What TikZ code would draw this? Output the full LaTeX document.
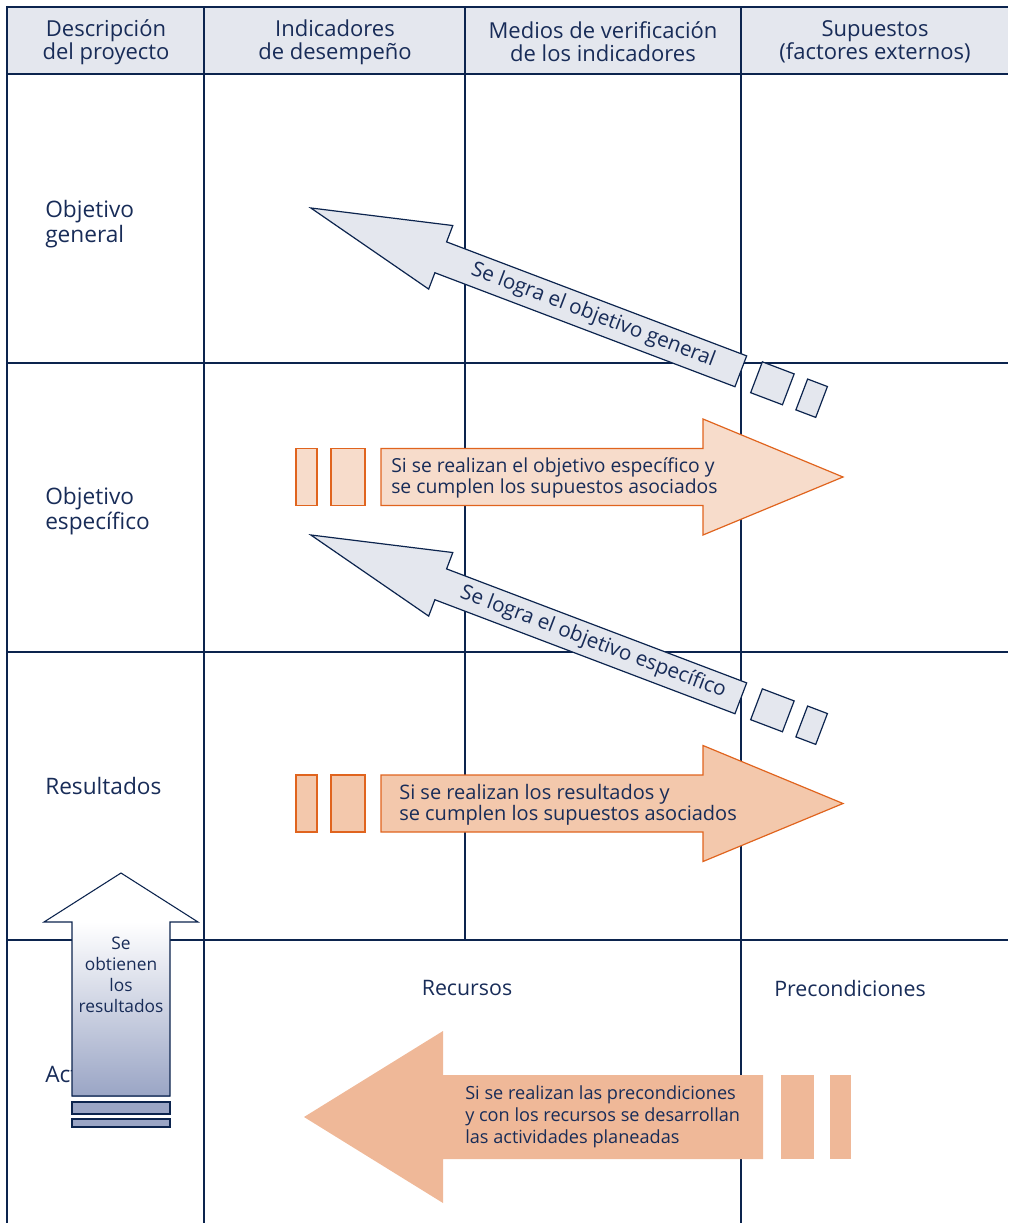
\documentclass[tikz,border=0pt]{standalone}
\usepackage{fontspec}
\setmainfont{Open Sans}
\usepackage{tikz}

\definecolor{navy}{RGB}{12,36,78}
\definecolor{inkblue}{RGB}{24,44,88}
\definecolor{headgray}{RGB}{228,231,238}
\definecolor{peachA}{RGB}{247,220,203}
\definecolor{peachB}{RGB}{243,200,172}
\definecolor{peachC}{RGB}{239,184,152}
\definecolor{orangeline}{RGB}{224,100,30}
\definecolor{upblue}{RGB}{154,165,197}

\tikzset{
  gridline/.style={color=navy, line width=1.9pt},
  rowline/.style={color=navy, line width=1pt},
  grayarrow/.style={draw=navy, fill=headgray, line width=0.9pt},
  peacharrow/.style={draw=orangeline, line width=0.9pt},
  hdtxt/.style={inner sep=0.75pt, text=inkblue, align=center, font=\fontsize{16.5}{17.25}\selectfont},
  rowtxt/.style={inner sep=0.75pt, text=inkblue, align=left, anchor=west, font=\fontsize{17}{18.75}\selectfont},
  celltxt/.style={inner sep=0.75pt, text=inkblue, font=\fontsize{16}{18}\selectfont},
  slanttxt/.style={inner sep=0.75pt, text=inkblue, rotate=-20.8, font=\fontsize{15.5}{18}\selectfont},
  peachtxt/.style={inner sep=0.75pt, text=inkblue, align=left, anchor=west, font=\fontsize{15}{15.75}\selectfont},
  uptxt/.style={inner sep=0.75pt, text=inkblue, align=center, font=\fontsize{13}{15.75}\selectfont}
}

\begin{document}
\begin{tikzpicture}[x=0.75pt,y=0.75pt,yscale=-1,xscale=1]
\useasboundingbox (0,0) rectangle (1008,1223);

%Shape: Header band
\fill [headgray] (7,7) rectangle (1008,74);
%Straight Lines
\draw [gridline] (7,7) -- (1008,7);
\draw [gridline] (7,74) -- (1008,74);
\draw [gridline] (7,6) -- (7,1223);
\draw [gridline] (204,7) -- (204,1223);
\draw [gridline] (465,7) -- (465,940);
\draw [gridline] (741,7) -- (741,1223);
\draw [rowline] (7,363) -- (1008,363);
\draw [rowline] (7,652) -- (1008,652);
\draw [rowline] (7,940) -- (1008,940);

% Text Node
\draw (106,42) node [hdtxt] (hdDesc) {Descripción\\del proyecto};
% Text Node
\draw (335,42) node [hdtxt] (hdInd) {Indicadores\\de desempeño};
% Text Node
\draw (603,42) node [hdtxt] (hdMed) {Medios de verificación\\de los indicadores};
% Text Node
\draw (875,42) node [hdtxt] (hdSup) {Supuestos\\(factores externos)};

% Text Node
\draw (44,224) node [rowtxt] (lblGeneral) {Objetivo\\general};
% Text Node
\draw (44,511) node [rowtxt] (lblEspec) {Objetivo\\específico};
% Text Node
\draw (44,786) node [rowtxt] (lblRes) {Resultados};
% Text Node
\draw (44,1074) node [rowtxt] (lblAct) {Actividades};
% Text Node
\draw (467,988) node [celltxt] (recursos) {Recursos};
% Text Node
\draw (850,988) node [celltxt] (precond) {Precondiciones};

%Shape: Arrow up-left (objetivo general)
\begin{scope}[shift={(740.8,371.3)}, rotate=20.8]
\draw [grayarrow] (0,-16.5) -- (-321,-16.5) -- (-321,-34) -- (-460,0) -- (-321,34) -- (-321,16.5) -- (0,16.5) -- cycle;
\draw [grayarrow] (16.8,-16.5) rectangle (50.8,16.5);
\draw [grayarrow] (65.2,-16.5) rectangle (86.4,16.5);
\draw (-158,0) node [slanttxt] (logGeneral) {Se logra el objetivo general};
\end{scope}

%Shape: Arrow up-left (objetivo especifico)
\begin{scope}[shift={(740.8,698.3)}, rotate=20.8]
\draw [grayarrow] (0,-16.5) -- (-321,-16.5) -- (-321,-34) -- (-460,0) -- (-321,34) -- (-321,16.5) -- (0,16.5) -- cycle;
\draw [grayarrow] (16.8,-16.5) rectangle (50.8,16.5);
\draw [grayarrow] (65.2,-16.5) rectangle (86.4,16.5);
\draw (-158,0) node [slanttxt] (logEspec) {Se logra el objetivo específico};
\end{scope}

%Shape: Right Arrow
\draw [peacharrow, fill=peachA] (381,448.5) -- (703,448.5) -- (703,419) -- (843,477) -- (703,535) -- (703,505.5) -- (381,505.5) -- cycle;
\draw [peacharrow, fill=peachA] (296,448.5) rectangle (317,505.5);
\draw [peacharrow, fill=peachA] (331,448.5) rectangle (365,505.5);
% Text Node
\draw (390,478) node [peachtxt, font=\fontsize{14.5}{15.75}\selectfont] (condEspec) {Si se realizan el objetivo específico y\\se cumplen los supuestos asociados};

%Shape: Right Arrow
\draw [peacharrow, fill=peachB] (381,775) -- (703,775) -- (703,745.5) -- (843,803.5) -- (703,861.5) -- (703,832) -- (381,832) -- cycle;
\draw [peacharrow, fill=peachB] (296,775) rectangle (317,832);
\draw [peacharrow, fill=peachB] (331,775) rectangle (365,832);
% Text Node
\draw (398,805) node [peachtxt] (condRes) {Si se realizan los resultados y\\se cumplen los supuestos asociados};

%Shape: Left Arrow
\fill [peachC] (763,1075) -- (443,1075) -- (443,1031) -- (304,1117) -- (443,1203) -- (443,1159) -- (763,1159) -- cycle;
\fill [peachC] (781,1075) rectangle (814,1159);
\fill [peachC] (830,1075) rectangle (851,1159);
% Text Node
\draw (464,1117) node [peachtxt, font=\fontsize{13.6}{16.5}\selectfont] (condAct) {Si se realizan las precondiciones\\y con los recursos se desarrollan\\las actividades planeadas};

%Shape: Up Arrow
\fill [white] (44,922) -- (121,873) -- (198,922) -- cycle;
\shade [top color=white, bottom color=upblue] (72,922) rectangle (170,1096);
\draw [navy, line width=0.8pt] (72,1096) -- (72,922) -- (44,922) -- (121,873) -- (198,922) -- (170,922) -- (170,1096) -- cycle;
\draw [navy, fill=upblue, line width=0.8pt] (72,1102) rectangle (170,1114);
\draw [navy, fill=upblue, line width=0.8pt] (72,1119) rectangle (170,1127);
% Text Node
\draw (121,975) node [uptxt] (obtRes) {Se\\obtienen\\los\\resultados};

\end{tikzpicture}
\end{document}
